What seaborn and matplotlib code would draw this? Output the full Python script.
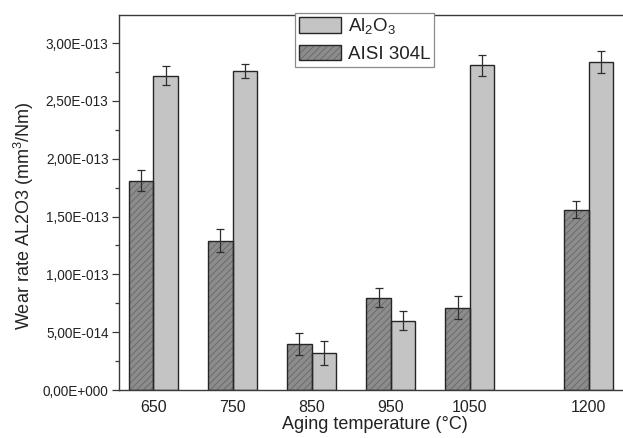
import numpy as np
import pandas as pd
import seaborn as sns
import matplotlib.pyplot as plt
from matplotlib.ticker import MultipleLocator, FuncFormatter, FixedLocator
from matplotlib.patches import Patch
from matplotlib.legend_handler import HandlerTuple

# Wear rate of the alumina counterpart and the AISI 304L steel vs. aging temperature
temperatures = [650, 750, 850, 950, 1050, 1200]
steel_rate = [1.81e-13, 1.29e-13, 0.40e-13, 0.80e-13, 0.71e-13, 1.56e-13]
steel_err = [0.09e-13, 0.10e-13, 0.095e-13, 0.08e-13, 0.10e-13, 0.075e-13]
alumina_rate = [2.72e-13, 2.76e-13, 0.32e-13, 0.60e-13, 2.81e-13, 2.84e-13]
alumina_err = [0.085e-13, 0.06e-13, 0.10e-13, 0.08e-13, 0.09e-13, 0.095e-13]

materials = ["AISI 304L", "Al2O3"]
legend_labels = [r"Al$_2$O$_3$", "AISI 304L"]
y_ticks = [0, 0.5e-13, 1.0e-13, 1.5e-13, 2.0e-13, 2.5e-13, 3.0e-13]

sns.set_style("ticks")
plt.rcParams["font.family"] = ["Liberation Sans", "DejaVu Sans"]
plt.rcParams["mathtext.default"] = "regular"
plt.rcParams["hatch.linewidth"] = 0.6

STEEL_FILL = "#8c8c8c"
STEEL_HATCH = "#686868"
ALUMINA_FILL = "#c4c4c4"
EDGE = "#262626"
SPINE = "#3a3a3a"
HATCH = "/////"

df = pd.DataFrame({
    "temperature": temperatures * 2,
    "rate": steel_rate + alumina_rate,
    "material": [materials[0]] * len(temperatures) + [materials[1]] * len(temperatures),
})

fig = plt.figure(figsize=(6.23, 4.38), dpi=100)
ax = fig.add_axes([119 / 623, 48 / 438, 512 / 623, 375.3 / 438])

bar_kw = dict(data=df, x="temperature", y="rate", hue="material",
              hue_order=materials, native_scale=True, width=0.62,
              errorbar=None, legend=False, ax=ax)

# filled bars (no outline); the steel bars carry a fine diagonal hatch
sns.barplot(palette=[STEEL_FILL, ALUMINA_FILL], saturation=1, linewidth=0, **bar_kw)
fill_containers = list(ax.containers[:2])
for p in fill_containers[0].patches:
    p.set_hatch(HATCH)
    p.set_edgecolor(STEEL_HATCH)
    p.set_linewidth(0)

# dark outlines drawn on top
sns.barplot(palette=[EDGE, EDGE], fill=False, linewidth=1.0, **bar_kw)

# measured error bars
errors = [steel_err, alumina_err]
values = [steel_rate, alumina_rate]
for k, container in enumerate(fill_containers):
    centers = [p.get_x() + p.get_width() / 2 for p in container.patches]
    ax.errorbar(centers, values[k], yerr=errors[k], fmt="none",
                ecolor="#2e2e2e", elinewidth=0.9, capsize=2.8, capthick=0.9,
                zorder=5)

ax.set_xlim(606.4, 1253.7)
ax.set_ylim(0, 3.246e-13)

ax.xaxis.set_major_locator(FixedLocator(temperatures))
ax.set_xticklabels([str(t) for t in temperatures])
ax.yaxis.set_major_locator(FixedLocator(y_ticks))
ax.yaxis.set_minor_locator(MultipleLocator(0.25e-13))


def sci_comma(v, pos):
    if v == 0:
        return "0,00E+000"
    e = int(np.floor(np.log10(abs(v)) + 1e-9))
    m = v / 10 ** e
    return f"{m:.2f}".replace(".", ",") + f"E{e:+04d}"


ax.yaxis.set_major_formatter(FuncFormatter(sci_comma))

ax.tick_params(axis="y", which="major", length=5, width=0.9, color=SPINE,
               direction="out", pad=2.5, labelsize=9.8, labelcolor="#222222")
ax.tick_params(axis="y", which="minor", length=2.8, width=0.9, color=SPINE,
               direction="out")
ax.tick_params(axis="x", which="both", length=0, pad=7, labelsize=11.5,
               labelcolor="#222222")

for side in ["left", "top", "bottom"]:
    ax.spines[side].set_visible(True)
    ax.spines[side].set_color(SPINE)
    ax.spines[side].set_linewidth(1.0)
ax.spines["right"].set_visible(False)

ax.set_xlabel("Aging temperature (°C)", fontsize=13, color="#222222", labelpad=1)
ax.set_ylabel(r"Wear rate AL2O3 (mm$^3$/Nm)", fontsize=13, color="#222222")
ax.yaxis.set_label_coords(-0.162, 0.4636)

alumina_handle = Patch(facecolor=ALUMINA_FILL, edgecolor=EDGE, linewidth=1.0)
steel_handle = (
    Patch(facecolor=STEEL_FILL, edgecolor=STEEL_HATCH, linewidth=0, hatch=HATCH),
    Patch(fill=False, edgecolor=EDGE, linewidth=1.0),
)
leg = ax.legend(handles=[alumina_handle, steel_handle], labels=legend_labels,
                handler_map={tuple: HandlerTuple(ndivide=1, pad=0)},
                loc="upper left", bbox_to_anchor=(0.344, 1.0053),
                borderaxespad=0, fontsize=13.5, frameon=True, fancybox=False,
                edgecolor="#8a8a8a", framealpha=1, handlelength=2.25,
                handleheight=0.9, handletextpad=0.35, labelspacing=0.45,
                borderpad=0.2)
leg.get_frame().set_linewidth(0.9)
for t in leg.get_texts():
    t.set_color("#222222")

fig.savefig("out.png", dpi=100)
